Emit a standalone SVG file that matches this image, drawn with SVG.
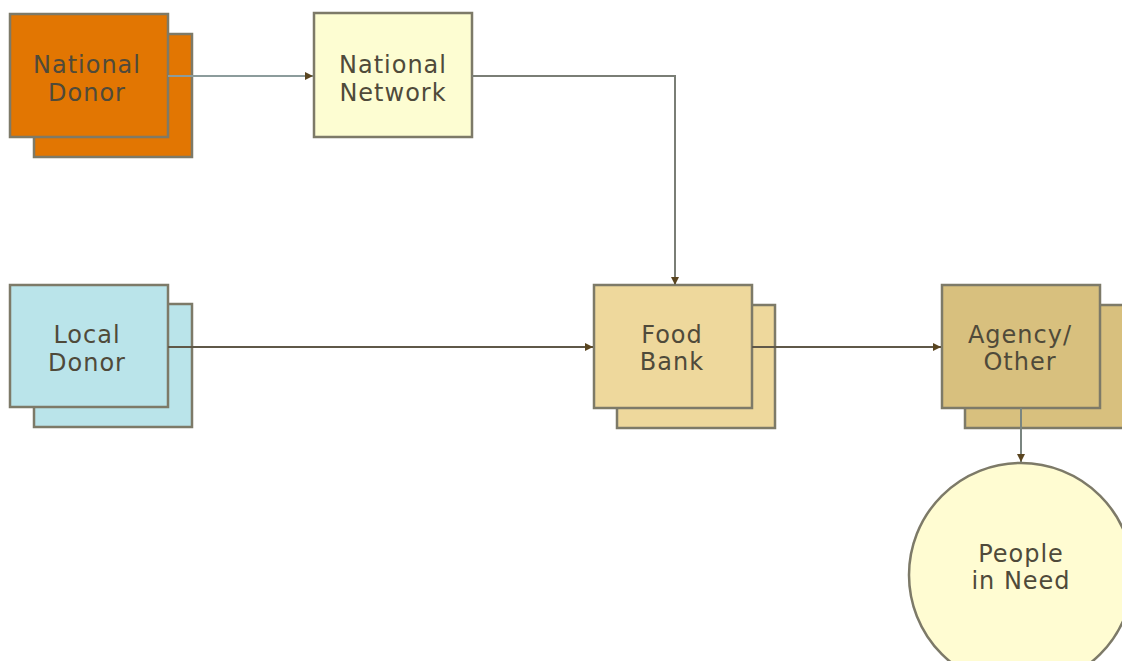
<svg xmlns="http://www.w3.org/2000/svg" width="1122" height="661" viewBox="0 0 1122 661">
<style>
.box{stroke:#7d7a68;stroke-width:2.5}
.t{font-family:"DejaVu Sans","Verdana",sans-serif;font-size:24px;letter-spacing:1px;text-anchor:middle;fill:#4f4a3a}
.c{fill:none;stroke-width:2}
</style>
<defs>
<marker id="ah" viewBox="0 0 10 10" refX="10" refY="5" markerWidth="4" markerHeight="4" orient="auto" markerUnits="strokeWidth">
<path d="M0,0 L10,5 L0,10 z" fill="#5a4520"/>
</marker>
</defs>
<rect width="1122" height="661" fill="#ffffff"/>
<g id="national-donor">
<rect class="box" x="34" y="34" width="158" height="123" fill="#e27602"/>
<rect class="box" x="10" y="14" width="158" height="123" fill="#e27602"/>
<text class="t" x="87" y="73">National</text>
<text class="t" x="87" y="101">Donor</text>
</g>
<g id="national-network">
<rect class="box" x="314" y="13" width="158" height="124" fill="#fdfdd2"/>
<text class="t" x="393" y="73">National</text>
<text class="t" x="393" y="101">Network</text>
</g>
<g id="local-donor">
<rect class="box" x="34" y="304" width="158" height="123" fill="#bae4ea"/>
<rect class="box" x="10" y="285" width="158" height="122" fill="#bae4ea"/>
<text class="t" x="87" y="343">Local</text>
<text class="t" x="87" y="371">Donor</text>
</g>
<g id="food-bank">
<rect class="box" x="617" y="305" width="158" height="123" fill="#eed89c"/>
<rect class="box" x="594" y="285" width="158" height="123" fill="#eed89c"/>
<text class="t" x="672" y="343">Food</text>
<text class="t" x="672" y="370">Bank</text>
</g>
<g id="agency-other">
<rect class="box" x="965" y="305" width="170" height="123" fill="#d8c07e"/>
<rect class="box" x="942" y="285" width="158" height="123" fill="#d8c07e"/>
<text class="t" x="1020" y="343">Agency/</text>
<text class="t" x="1020" y="370">Other</text>
</g>
<g id="people-in-need">
<circle cx="1021" cy="575" r="112" fill="#fffcd2" stroke="#7d7a68" stroke-width="2.5"/>
<text class="t" x="1021" y="562">People</text>
<text class="t" x="1021" y="589">in Need</text>
</g>
<g id="connectors">
<path class="c" d="M168,76 H313" stroke="#8c9c9c" marker-end="url(#ah)"/>
<path class="c" d="M472,76 H675 V285" stroke="#7a7e76" marker-end="url(#ah)"/>
<path class="c" d="M168,347 H593" stroke="#5f5848" marker-end="url(#ah)"/>
<path class="c" d="M752,347 H941" stroke="#5f5848" marker-end="url(#ah)"/>
<path class="c" d="M1021,408 V462" stroke="#7a8580" marker-end="url(#ah)"/>
</g>
</svg>
